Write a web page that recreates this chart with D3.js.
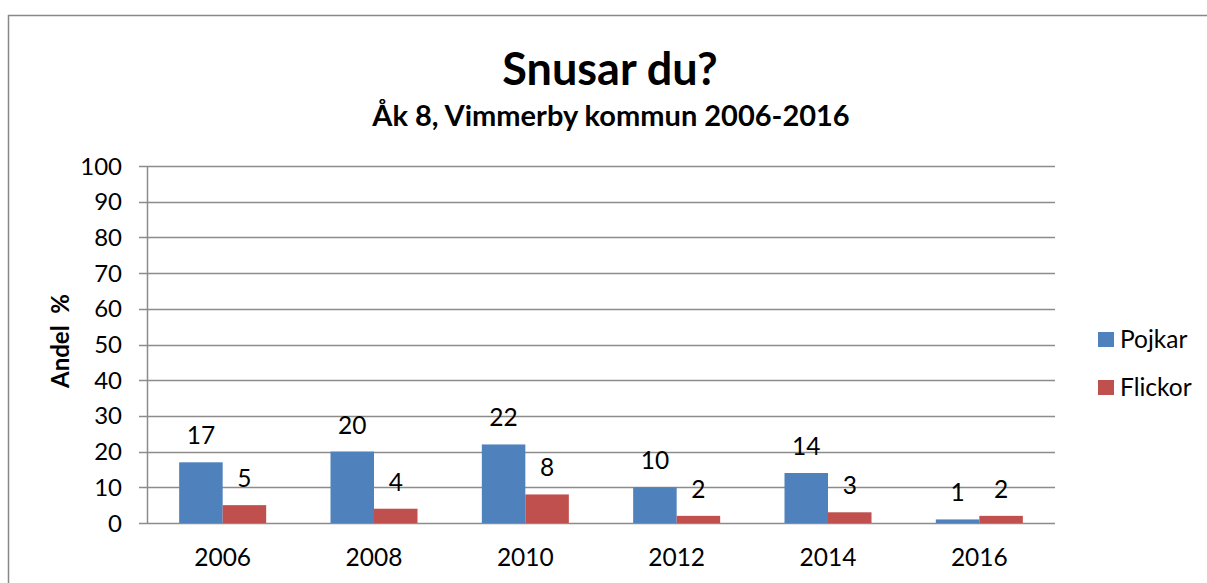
<!DOCTYPE html>
<html>
<head>
<meta charset="utf-8">
<script src="https://cdn.jsdelivr.net/npm/d3@7"></script>
<style>
  body { margin: 0; background: #fff; }
  text { font-family: Lato, "Open Sans", sans-serif; fill: #000; }
</style>
</head>
<body>
<div id="chart"></div>
<script>
// data
const years = ["2006", "2008", "2010", "2012", "2014", "2016"];
const pojkar = [17, 20, 22, 10, 14, 1];
const flickor = [5, 4, 8, 2, 3, 2];
const seriesNames = ["Pojkar", "Flickor"];
const seriesColors = ["#4F81BD", "#C0504D"];
const yTicks = [0, 10, 20, 30, 40, 50, 60, 70, 80, 90, 100];

const width = 1207, height = 583;
const plot = { left: 147, right: 1055, top: 166, bottom: 523 };

const svg = d3.select("#chart").append("svg")
  .attr("width", width)
  .attr("height", height);

// outer frame
svg.append("rect")
  .attr("x", 8.5).attr("y", 15.5)
  .attr("width", 1210).attr("height", 600)
  .attr("fill", "none")
  .attr("stroke", "#888")
  .attr("stroke-width", 1.5);

const x = d3.scaleBand().domain(years).range([plot.left, plot.right]);
const inner = d3.scaleBand().domain(seriesNames)
  .range([0, x.bandwidth() * 0.575])
  .paddingInner(0);
const y = d3.scaleLinear().domain([0, 100]).range([plot.bottom, plot.top]);

// gridlines
svg.append("g")
  .selectAll("line")
  .data(yTicks)
  .join("line")
  .attr("x1", plot.left - 8)
  .attr("x2", plot.right)
  .attr("y1", d => Math.round(y(d)) + 0.5)
  .attr("y2", d => Math.round(y(d)) + 0.5)
  .attr("stroke", "#8c8c8c")
  .attr("stroke-width", 1.5);

// y axis line
svg.append("line")
  .attr("x1", plot.left + 0.5).attr("x2", plot.left + 0.5)
  .attr("y1", plot.top).attr("y2", plot.bottom + 1)
  .attr("stroke", "#8c8c8c")
  .attr("stroke-width", 1.5);

// y tick labels
svg.append("g")
  .selectAll("text")
  .data(yTicks)
  .join("text")
  .attr("x", plot.left - 25)
  .attr("y", d => y(d) + 8.5)
  .attr("text-anchor", "end")
  .style("font-size", "24px")
  .text(d => d);

// x labels
svg.append("g")
  .selectAll("text")
  .data(years)
  .join("text")
  .attr("x", d => x(d) + x.bandwidth() / 2)
  .attr("y", 566)
  .attr("text-anchor", "middle")
  .style("font-size", "24.5px")
  .text(d => d);

// bars
const rows = years.map((yr, i) => ({ year: yr, values: [pojkar[i], flickor[i]] }));
const groupOffset = (x.bandwidth() - inner.range()[1]) / 2;

const groups = svg.append("g")
  .selectAll("g")
  .data(rows)
  .join("g")
  .attr("transform", d => `translate(${x(d.year) + groupOffset},0)`);

groups.selectAll("rect")
  .data(d => d.values.map((v, j) => ({ name: seriesNames[j], value: v, color: seriesColors[j] })))
  .join("rect")
  .attr("x", d => inner(d.name))
  .attr("y", d => y(d.value))
  .attr("width", inner.bandwidth())
  .attr("height", d => y(0) - y(d.value))
  .attr("fill", d => d.color);

groups.selectAll("text")
  .data(d => d.values.map((v, j) => ({ name: seriesNames[j], value: v })))
  .join("text")
  .attr("x", d => inner(d.name) + inner.bandwidth() / 2)
  .attr("y", d => y(d.value) - 18)
  .attr("text-anchor", "middle")
  .style("font-size", "24.5px")
  .text(d => d.value);

// titles
svg.append("text")
  .attr("x", 610).attr("y", 85)
  .attr("text-anchor", "middle")
  .style("font-size", "45px")
  .style("font-weight", "bold")
  .text("Snusar du?");

svg.append("text")
  .attr("x", 611).attr("y", 126)
  .attr("text-anchor", "middle")
  .style("font-size", "29px")
  .style("font-weight", "bold")
  .text("Åk 8, Vimmerby kommun 2006-2016");

// y axis title
svg.append("text")
  .attr("transform", "translate(69,341) rotate(-90)")
  .attr("text-anchor", "middle")
  .style("font-size", "24px")
  .style("font-weight", "bold")
  .style("white-space", "pre")
  .text("Andel  %");

// legend
const legend = svg.append("g")
  .selectAll("g")
  .data(seriesNames)
  .join("g")
  .attr("transform", (d, i) => `translate(1098,${332 + i * 48})`);

legend.append("rect")
  .attr("width", 16).attr("height", 15)
  .attr("fill", (d, i) => seriesColors[i]);

legend.append("text")
  .attr("x", 22).attr("y", 16)
  .style("font-size", "24.5px")
  .text(d => d);
</script>
</body>
</html>
